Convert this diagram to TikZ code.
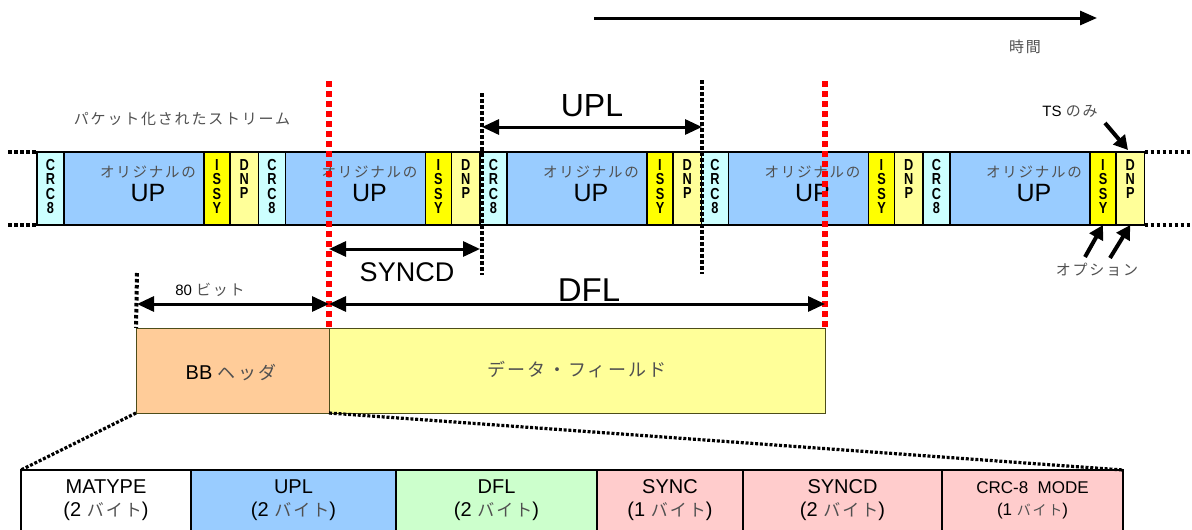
\documentclass[tikz,border=0pt]{standalone}
\usepackage{graphicx}
\usepackage{fontspec}
\setmainfont{Liberation Sans}
\newfontfamily\jp[LetterSpace=12]{Noto Sans CJK JP}
\usetikzlibrary{arrows.meta}
\definecolor{crccol}{HTML}{CCFFFF}
\definecolor{upcol}{HTML}{99CCFF}
\definecolor{issycol}{HTML}{FFFF00}
\definecolor{dnpcol}{HTML}{FFFF99}
\definecolor{bbcol}{HTML}{FFCC99}
\definecolor{dflcol}{HTML}{CCFFCC}
\definecolor{pinkcol}{HTML}{FFCCCC}
\definecolor{boxedge}{HTML}{4D4D1A}
\definecolor{jpgray}{HTML}{505050}
\newcommand\setfs[2]{\fontsize{#1}{#2}\selectfont}
\newcommand\vstack[1]{{\lineskip=0.4pt\scalebox{0.88}[1.1]{\shortstack{#1}}}}
\newcommand\jg[1]{{\jp\color{jpgray}#1}}
\begin{document}
\begin{tikzpicture}[x=1pt,y=-1pt,
  seg/.style={draw=black,line width=1.3pt,minimum height=73pt,inner sep=0pt,outer sep=0pt},
  crcbox/.style={seg,fill=crccol,minimum width=27pt},
  upbox/.style={seg,fill=upcol,minimum width=140pt},
  issybox/.style={seg,fill=issycol,minimum width=26pt},
  dnpbox/.style={seg,fill=dnpcol,minimum width=28.5pt},
  vtxt/.style={inner sep=0pt,font=\setfs{14.5}{14.5}\bfseries,anchor=north},
  jptxt/.style={inner sep=0pt,font=\setfs{14.5}{16}},
  uptxt/.style={inner sep=0pt,font=\setfs{25}{28}},
  blkdot/.style={line width=4pt,dash pattern=on 3.5pt off 2.5pt},
  reddot/.style={line width=6pt,red,dash pattern=on 6pt off 4pt},
  thindot/.style={line width=3.2pt,dash pattern=on 3pt off 1.8pt},
  dimarr/.style={line width=3pt,>={Triangle[length=17pt,width=15pt]},<->},
  ptr/.style={line width=4pt,>={Triangle[length=14pt,width=15pt]},->},
  lbl/.style={inner sep=0pt},
  fieldbox/.style={draw=boxedge,line width=1pt,minimum height=85pt,inner sep=0pt,outer sep=0pt},
  cell/.style={draw=black,line width=2.5pt,minimum height=70pt,inner sep=0pt,outer sep=0pt,anchor=north},
  celltxt/.style={inner sep=0pt,align=center,font=\setfs{20}{23}}
]
\useasboundingbox (0,0) rectangle (1192,530);
\clip (0,0) rectangle (1192,530);

% packet stream
\foreach \i/\b in {1/37,2/258.5,3/480,4/701.5,5/923}{
  \node[crcbox] (crc\i) at (\b+13.5,188.5) {};
  \node[vtxt] (crct\i) at ([yshift=-7pt]crc\i.north) {\vstack{C\\R\\C\\8}};
  \node[upbox] (up\i) at (\b+97,188.5) {};
  \node[jptxt] (upj\i) at (\b+111,172) {\jg{オリジナルの}};
  \node[uptxt] (upt\i) at (\b+111,193) {UP};
  \node[issybox] (issy\i) at (\b+180,188.5) {};
  \node[vtxt] (issyt\i) at ([yshift=-7pt]issy\i.north) {\vstack{I\\S\\S\\Y}};
  \node[dnpbox] (dnp\i) at (\b+207.25,188.5) {};
  \node[vtxt] (dnpt\i) at ([yshift=-7pt]dnp\i.north) {\vstack{D\\N\\P}};
}
\draw[line width=2.8pt] (crc1.north west) -- (dnp5.north east);
\draw[line width=2.8pt] (crc1.south west) -- (dnp5.south east);

% dotted stream continuations
\coordinate (ltop) at (8,152);
\coordinate (lbot) at (8,225);
\coordinate (rtop) at (1192,152);
\coordinate (rbot) at (1192,225);
\draw[blkdot] (ltop) -- (crc1.north west);
\draw[blkdot] (lbot) -- (crc1.south west);
\draw[blkdot] (dnp5.north east) -- (rtop);
\draw[blkdot] (dnp5.south east) -- (rbot);

% stream label
\node[lbl,font=\setfs{15}{18}] (streamlbl) at (182,119) {\jg{パケット化されたストリーム}};

% time arrow
\coordinate (t0) at (594,18);
\coordinate (t1) at (1097,18);
\draw[line width=3pt,>={Triangle[length=17pt,width=14pt]},->] (t0) -- (t1);
\node[lbl,font=\setfs{15}{18}] (timelbl) at (1025,47) {\jg{時間}};

% UPL marks
\coordinate (u1t) at (482,93);
\coordinate (u1b) at (482,275);
\coordinate (u2t) at (702,80);
\coordinate (u2b) at (702,274);
\draw[blkdot] (u1t) -- (u1b);
\draw[blkdot] (u2t) -- (u2b);
\coordinate (ua) at (482,127);
\coordinate (ub) at (702,127);
\draw[dimarr] (ua) -- (ub);
\node[lbl,font=\setfs{32}{36}] (upllbl) at (592,106) {UPL};

% BB header / data field
\node[fieldbox,fill=bbcol,minimum width=193pt] (bb) at (232.5,370.5) {};
\node[lbl,font=\setfs{20}{24}] (bblbl) at (231,373) {BB \jg{\setfs{18}{22}ヘッダ}};
\node[fieldbox,fill=dnpcol,minimum width=496pt] (df) at (577,370.5) {};
\node[lbl,font=\setfs{18}{22}] (dflbl) at (577,370) {\jg{データ・フィールド}};

% 80 bit mark
\coordinate (h0t) at (137,273);
\draw[blkdot] (h0t) -- (bb.north west);

% red marks
\coordinate (r1t) at (329,81);
\coordinate (r2t) at (825,81);
\draw[reddot] (r1t) -- (bb.north east);
\draw[reddot] (r2t) -- (df.north east);

% SYNCD
\coordinate (sa) at (329,249);
\coordinate (sb) at (480,249);
\draw[dimarr] (sa) -- (sb);
\node[lbl,font=\setfs{27}{30}] (syncdlbl) at (407,272) {SYNCD};

% 80 bit and DFL
\coordinate (ha) at (137,304);
\coordinate (hb) at (329,304);
\coordinate (da) at (825,304);
\draw[dimarr] (ha) -- (hb);
\draw[dimarr] (hb) -- (da);
\node[lbl,font=\setfs{15}{18}] (bitlbl) at (210,290) {80 \jg{ビット}};
\node[lbl,font=\setfs{33}{36}] (dfllbl) at (589,290) {DFL};

% TS only / option
\node[lbl,font=\setfs{15}{18}] (tslbl) at (1070,111) {TS \jg{のみ}};
\coordinate (tsa) at (1105,123);
\coordinate (tsb) at (1128,150);
\draw[ptr] (tsa) -- (tsb);
\node[lbl,font=\setfs{15}{18}] (optlbl) at (1097,270) {\jg{オプション}};
\coordinate (oa1) at (1085,257);
\coordinate (oa2) at (1110,258);
\draw[ptr] (oa1) -- (issy5.south);
\draw[ptr] (oa2) -- (dnp5.south);

% BB header fields
\node[cell,fill=white,minimum width=170pt] (mat) at (106,470) {};
\node[cell,fill=upcol,minimum width=205pt] (upl) at (293.5,470) {};
\node[cell,fill=dflcol,minimum width=201pt] (dfl) at (496.5,470) {};
\node[cell,fill=pinkcol,minimum width=146pt] (sync) at (670,470) {};
\node[cell,fill=pinkcol,minimum width=199pt] (syncd) at (842.5,470) {};
\node[cell,fill=pinkcol,minimum width=181pt] (crcm) at (1032.5,470) {};
\node[celltxt] (matt) at (106,500.5) {MATYPE\\(2 \jg{\setfs{17}{23}バイト})};
\node[celltxt] (uplt) at (293.5,500.5) {UPL\\(2 \jg{\setfs{17}{23}バイト})};
\node[celltxt] (dflt) at (496.5,500.5) {DFL\\(2 \jg{\setfs{17}{23}バイト})};
\node[celltxt] (synct) at (670,500.5) {SYNC\\(1 \jg{\setfs{17}{23}バイト})};
\node[celltxt] (syncdt) at (842.5,500.5) {SYNCD\\(2 \jg{\setfs{17}{23}バイト})};
\node[celltxt,font=\setfs{17}{22}] (crcmt) at (1032.5,500.5) {CRC-8\ \ MODE\\(1 \jg{\setfs{14}{22}バイト})};

% zoom lines
\draw[thindot] (bb.south west) -- (mat.north west);
\draw[thindot] (bb.south east) -- (crcm.north east);
\end{tikzpicture}
\end{document}
